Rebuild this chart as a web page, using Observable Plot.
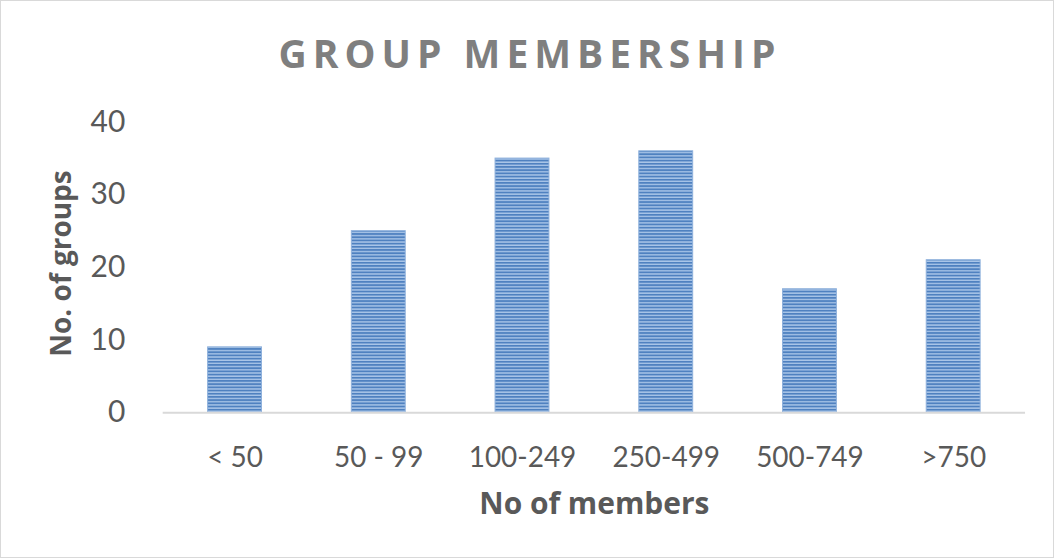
<!DOCTYPE html>
<html>
<head>
<meta charset="utf-8">
<script src="https://cdn.jsdelivr.net/npm/d3@7"></script>
<script src="https://cdn.jsdelivr.net/npm/@observablehq/plot@0.6"></script>
<style>
  html, body { margin: 0; padding: 0; background: #fff; }
  #chart { position: relative; width: 1052px; height: 556px; border: 1px solid #d9d9d9; overflow: hidden; }
  #title { position: absolute; left: 0; right: 0; top: 27px; text-align: center; padding-left: 6px;
           font-family: "Open Sans", sans-serif; font-weight: 700; font-size: 39px; line-height: 50px;
           letter-spacing: 6px; color: #7f7f7f; z-index: 2; }
  svg { position: absolute; left: -1px; top: -1px; }
</style>
</head>
<body>
<div id="chart"><div id="title">GROUP MEMBERSHIP</div></div>
<script>
const categories = ["< 50", "50 - 99", "100-249", "250-499", "500-749", ">750"];
const groups = [9, 25, 35, 36, 17, 21];
const yTicks = [0, 10, 20, 30, 40];

const data = categories.map((c, i) => ({category: c, groups: groups[i]}));

const svg = Plot.plot({
  width: 1054,
  height: 558,
  marginLeft: 163,
  marginRight: 27,
  marginTop: 122,
  marginBottom: 145,
  style: {fontFamily: "Lato, sans-serif", color: "#595959", background: "transparent"},
  x: {domain: categories, paddingInner: 0.625, paddingOuter: 0.3125, label: null},
  y: {domain: [0, 40], label: null},
  marks: [
    Plot.barY(data, {x: "category", y: "groups", fill: "url(#stripes)", stroke: "#8fb1dc", strokeWidth: 1}),
    Plot.ruleY([0], {stroke: "#d9d9d9", strokeWidth: 2}),
    Plot.axisY({ticks: yTicks, tickSize: 0, tickPadding: 38, fontSize: 30, fill: "#595959"}),
    Plot.axisX({tickSize: 0, tickPadding: 35, fontSize: 28, fill: "#595959"}),
    Plot.text(["No of members"], {frameAnchor: "bottom", lineAnchor: "middle", dx: 0, dy: 92, fontSize: 30, fontWeight: "bold", fill: "#595959", fontFamily: "Open Sans, sans-serif"}),
    Plot.text(["No. of groups"], {frameAnchor: "left", textAnchor: "middle", dx: -101, dy: -4, rotate: -90, fontSize: 28, fontWeight: "bold", fill: "#595959", fontFamily: "Open Sans, sans-serif"})
  ]
});

const defs = d3.select(svg).insert("defs", ":first-child");
const pat = defs.append("pattern").attr("id", "stripes").attr("patternUnits", "userSpaceOnUse")
  .attr("width", 6).attr("height", 3.2);
pat.append("rect").attr("width", 6).attr("height", 3.2).attr("fill", "#a9c5e8");
pat.append("rect").attr("width", 6).attr("height", 1.8).attr("fill", "#4f81c0");

document.getElementById("chart").appendChild(svg);
</script>
</body>
</html>
